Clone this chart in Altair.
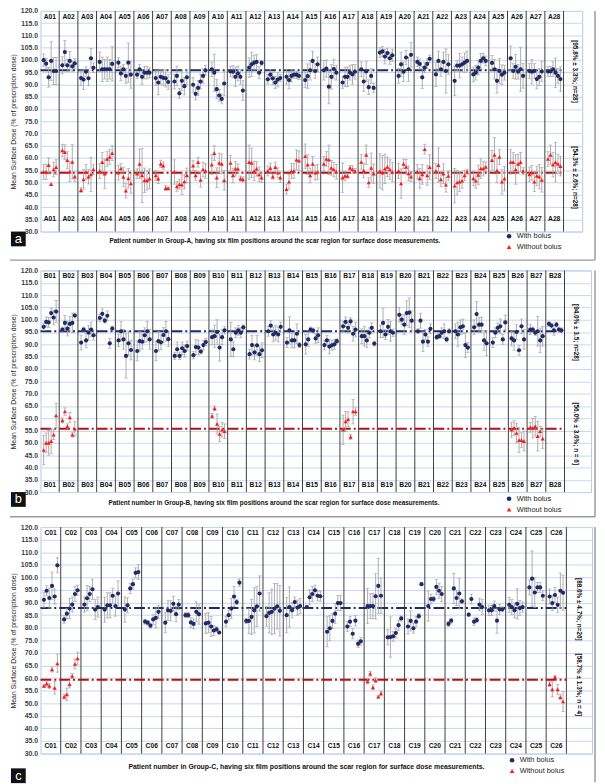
import altair as alt
import pandas as pd

# ---------------- data ----------------
YTICKS = [30, 35, 40, 45, 50, 55, 60, 65, 70, 75, 80, 85, 90, 95, 100, 105, 110, 115, 120]

A_BLUE = [
    99.9, 98.5, 92.9, 99.6, 95.5, 95.5,
    97.8, 103.2, 97.8, 99.6, 97.4, 98.6,
    92.6, 92.0, 95.2, 92.5, 100.7, 96.8,
    99.2, 96.2, 96.2, 96.2, 96.2, 98.4,
    98.9, 94.5, 96.2, 93.5, 98.9, 94.0,
    94.0, 96.2, 93.1, 94.8, 94.8, 94.8,
    92.6, 90.8, 93.1, 92.7, 92.5, 91.0,
    91.2, 93.5, 86.4, 91.5, 89.3, 92.9,
    89.9, 86.2, 88.6, 91.2, 93.5, 95.8,
    96.2, 94.8, 88.1, 85.5, 84.1, 90.4,
    95.3, 95.2, 93.1, 94.5, 93.1, 87.5,
    96.9, 98.2, 98.9, 99.2, 94.8, 98.8,
    92.1, 94.0, 92.5, 90.8, 92.0, 92.6,
    93.1, 91.8, 93.5, 94.0, 94.0, 93.5,
    91.8, 93.4, 95.8, 99.6, 95.5, 98.2,
    95.8, 96.5, 89.1, 93.1, 96.3, 94.8,
    90.8, 93.1, 93.1, 94.8, 94.1, 95.2,
    96.2, 91.2, 95.3, 88.9, 93.5, 88.6,
    103.0, 103.5, 101.4, 102.8, 100.7, 101.9,
    93.5, 98.2, 95.2, 101.0, 96.2, 102.1,
    99.2, 98.4, 92.9, 96.9, 98.4, 100.5,
    94.1, 99.6, 96.2, 99.2, 95.5, 98.2,
    91.5, 97.7, 97.7, 98.2, 98.9, 99.6,
    94.1, 94.8, 96.9, 99.6, 100.7, 99.6,
    98.8, 96.2, 91.5, 95.5, 94.0, 94.8,
    100.7, 95.5, 97.2, 95.2, 96.2, 93.5,
    95.5, 95.2, 95.5, 92.2, 93.1, 95.3,
    95.3, 95.3, 96.2, 94.8, 93.5, 92.2,
]
A_BLUE_ERR = [
    2.5, 2.2, 4, 8, 5.5, 5.5,
    3.5, 4.8, 2.5, 3.8, 2, 2,
    3, 4, 2, 3, 4, 2,
    4, 5, 4, 5, 4, 7,
    2, 3, 2, 3, 8, 5.5,
    1.5, 2, 3, 2.5, 2.5, 2,
    3, 5, 3, 3, 3.5, 3,
    3, 4, 2, 4, 3.5, 3,
    3, 2.5, 3, 3, 3, 2,
    3, 7.6, 4, 2.5, 2, 5,
    2, 2.5, 4, 3, 3, 4,
    4, 5, 3, 3, 2.5, 1,
    2, 2, 2.5, 2.5, 3, 1.5,
    3, 3.5, 2.5, 1.5, 1.5, 1.5,
    3, 5, 4, 4, 3, 3,
    4, 3.5, 7, 5, 4, 3,
    2.5, 4, 4, 3, 4, 3,
    3, 4, 4, 3, 3, 2,
    2, 2, 3, 2, 2.5, 2.5,
    3, 5, 4, 3, 5, 5,
    2, 2, 4.5, 2, 2, 1.5,
    5, 4, 3, 4, 9, 4,
    6, 2, 5, 3, 4, 4,
    3, 3, 3, 3, 2, 2,
    3, 4, 5, 5, 4, 3,
    5, 3, 5, 3, 9, 5,
    3, 5, 3, 4, 3.5, 4,
    2, 2, 3, 6, 3, 5,
]
A_RED_PATIENTS = list(range(1, 29))
A_RED = [
    54.3, 54.3, 57.1, 49.3, 55.3, 56.3,
    63.1, 62.4, 59.1, 54.4, 58.4, 52.4,
    46.9, 51.3, 54.3, 52.4, 53.3, 55.3,
    54.7, 58.3, 53.6, 59.6, 60.4, 62.0,
    54.0, 55.7, 52.3, 46.7, 51.7, 49.6,
    53.6, 57.6, 52.9, 50.9, 50.9, 51.6,
    52.9, 51.6, 57.6, 56.9, 47.7, 47.6,
    54.3, 48.4, 49.3, 49.1, 50.4, 52.9,
    56.9, 52.9, 58.3, 51.1, 55.3, 54.7,
    57.3, 62.0, 52.0, 58.0, 57.6, 50.9,
    58.0, 52.9, 55.6, 55.6, 51.6, 51.3,
    58.3, 58.0, 54.7, 55.6, 53.3, 52.0,
    54.7, 55.9, 52.4, 56.3, 54.0, 52.0,
    47.3, 50.3, 54.7, 54.7, 59.3, 58.9,
    60.7, 57.3, 52.9, 57.6, 54.0, 54.3,
    57.6, 59.6, 59.3, 56.0, 55.3, 54.4,
    52.0, 52.7, 52.7, 56.0, 55.3, 54.7,
    58.4, 54.9, 61.3, 50.0, 56.0, 53.6,
    54.7, 54.0, 55.6, 56.4, 55.3, 54.3,
    54.7, 49.6, 57.6, 56.4, 53.7, 52.4,
    54.4, 51.7, 53.3, 63.6, 52.9, 56.3,
    54.7, 57.1, 51.3, 53.6, 49.1, 52.7,
    48.7, 50.0, 50.3, 50.7, 52.9, 54.4,
    51.7, 50.7, 53.1, 55.7, 55.7, 56.4,
    59.1, 61.3, 54.9, 60.4, 50.3, 51.6,
    58.4, 58.3, 55.3, 57.6, 58.3, 54.7,
    53.3, 54.0, 50.3, 52.7, 52.4, 51.1,
    59.6, 61.3, 57.3, 58.3, 57.6, 56.7,
]
A_RED_ERR = [
    3, 3, 3, 0.5, 3, 3,
    2.5, 3, 3.5, 4, 7, 2,
    1, 4, 3, 3, 7, 2,
    3, 4, 6, 3, 3, 3,
    3, 2, 4, 3, 4, 4,
    2, 6, 11, 5, 4, 4,
    2, 2, 1.5, 1.5, 1, 0.5,
    5, 2, 2, 4, 3, 3,
    2, 2, 2, 3, 3, 3,
    4, 3, 4, 4, 4, 4,
    3, 3, 3, 2, 1, 1,
    7, 6, 4, 3, 3, 2,
    2, 2, 1, 2, 2, 2,
    2, 3, 3, 3, 4, 4,
    5, 4, 3, 3, 3, 3,
    3, 3, 6, 3, 3, 3,
    6, 2, 1, 1, 1.5, 1,
    3, 3, 4, 2, 6, 4,
    7, 7, 6, 4, 4, 4,
    3, 6, 2, 3, 3, 2,
    3, 4, 4, 2, 4, 5,
    3, 7, 3, 4, 3, 2,
    7, 5, 4, 3, 2, 1,
    3, 3, 4, 4, 3, 2,
    4, 7, 5, 3, 5, 5,
    5, 4, 6, 4, 4, 1.5,
    3, 3, 4, 4, 5, 5,
    3, 4, 5, 8, 4, 4,
]

B_BLUE = [
    97.1, 99.1, 98.9, 102.7, 100.9, 103.3,
    96.0, 98.7, 96.4, 98.3, 98.7, 101.7,
    90.7, 96.0, 91.6, 94.7, 96.0, 93.7,
    100.7, 102.4, 99.6, 101.6, 90.4, 96.4,
    91.6, 95.3, 92.0, 85.3, 90.4, 87.7,
    87.3, 91.3, 91.1, 93.7, 95.3, 92.0,
    87.3, 91.3, 90.8, 93.8, 95.3, 92.1,
    85.3, 88.0, 85.3, 88.4, 87.3, 89.3,
    85.6, 88.9, 88.7, 87.1, 89.7, 90.9,
    92.9, 93.3, 95.0, 88.7, 92.9, 95.7,
    92.0, 88.0, 94.7, 95.7, 94.7, 96.9,
    86.0, 89.7, 86.7, 89.6, 86.0, 87.6,
    95.3, 97.6, 94.0, 94.7, 94.0, 97.1,
    90.7, 95.7, 91.6, 91.6, 94.3, 89.7,
    90.0, 92.0, 96.0, 95.6, 92.4, 93.7,
    89.7, 91.6, 89.1, 89.6, 90.0, 91.3,
    97.3, 99.1, 96.7, 99.3, 94.3, 96.0,
    93.3, 93.3, 91.6, 94.7, 96.7, 90.3,
    95.3, 98.7, 94.0, 97.1, 95.3, 94.7,
    102.0, 100.0, 98.0, 102.7, 102.9, 99.6,
    95.3, 99.6, 91.1, 94.0, 91.1, 96.3,
    92.9, 93.3, 94.7, 95.3, 92.0, 95.3,
    95.3, 94.0, 96.9, 97.3, 89.7, 88.7,
    96.9, 102.3, 98.0, 98.0, 91.6, 90.4,
    90.7, 94.7, 96.7, 97.3, 92.0, 98.9,
    92.4, 91.6, 95.0, 87.6, 97.3, 92.0,
    96.0, 96.0, 94.7, 95.3, 91.6, 93.3,
    98.3, 97.6, 95.7, 98.0, 96.0, 95.7,
]
B_BLUE_ERR = [
    1.5, 2, 2, 2, 3, 4.5,
    1, 3, 3, 3, 4, 1,
    3, 1, 3, 3, 3, 2,
    1.5, 2, 1, 2, 2, 1,
    2.5, 4, 4, 9, 5, 4,
    4, 4, 3, 3, 4, 4,
    4, 4, 3, 3, 4, 3,
    1.5, 3, 1.5, 2.5, 2.5, 2,
    1.5, 3, 3, 1, 2, 1.5,
    3, 4.5, 5, 5.5, 3, 1.5,
    7, 3, 2, 2, 2, 1,
    2, 4, 3, 4, 3, 3,
    2, 2, 3, 3, 3, 2,
    2, 5.5, 3, 3, 4, 1,
    4, 3, 1, 1, 2, 3,
    2, 2, 3, 2, 2, 1,
    2, 2, 2, 1.5, 3, 3,
    3, 4, 3, 2, 2, 1,
    2.5, 6, 2, 3, 4, 1.5,
    3, 2, 4, 5, 6, 4,
    1, 3, 4, 2, 2, 2,
    1, 1, 2, 3, 1, 1,
    3, 5, 3, 3, 5, 2,
    3, 5, 3, 3, 4, 5,
    2, 2, 2, 3, 2, 3,
    3, 4, 3, 2, 3, 4,
    2, 1, 1, 6, 5, 4,
    1, 1, 2, 1, 1, 1,
]
B_RED_PATIENTS = [1, 2, 10, 17, 26, 27]
B_RED = [
    47.1, 50.0, 50.0, 50.7, 53.3, 61.1,
    59.1, 62.7, 56.7, 60.3, 53.3, 55.7,
    60.9, 64.0, 57.7, 53.6, 55.3, 54.7,
    55.3, 58.7, 59.6, 52.4, 62.7, 62.7,
    55.3, 56.0, 54.0, 51.1, 51.1, 50.7,
    56.3, 56.0, 56.7, 52.7, 54.7, 51.7,
]
B_RED_ERR = [
    6, 4, 5, 5, 2, 5,
    1, 1.5, 1, 2, 1, 3,
    1, 1, 4, 3, 3, 3,
    6, 4, 3, 1, 5, 1.5,
    3, 3, 4, 5, 3, 4,
    2, 4, 4, 6, 2, 4,
]

C_BLUE = [
    91.1, 94.7, 91.8, 96.6, 92.4, 104.8,
    83.3, 85.6, 87.6, 89.2, 93.4, 94.9,
    89.2, 91.7, 93.4, 95.3, 87.2, 88.2,
    87.2, 88.9, 88.9, 92.7, 88.6, 93.6,
    87.2, 88.9, 95.6, 97.3, 101.8, 102.1,
    82.4, 82.0, 80.8, 83.3, 83.9, 86.3,
    82.0, 86.9, 86.7, 89.5, 85.4, 89.2,
    85.0, 85.0, 82.1, 81.5, 86.3, 85.4,
    81.7, 82.0, 80.5, 78.9, 79.4, 78.1,
    82.4, 85.0, 87.6, 92.4, 90.2, 97.9,
    82.7, 82.7, 84.3, 86.9, 88.5, 93.6,
    84.6, 85.9, 86.3, 87.6, 88.5, 86.7,
    85.0, 88.2, 86.9, 90.2, 88.0, 88.6,
    88.2, 92.1, 93.4, 94.9, 92.7, 92.5,
    78.4, 79.8, 82.7, 85.6, 89.8, 89.8,
    80.5, 82.4, 77.6, 82.8, 73.6, 74.6,
    88.6, 88.6, 88.6, 92.5, 96.6, 92.7,
    76.2, 76.3, 76.6, 77.9, 81.0, 83.7,
    80.5, 82.7, 79.8, 82.4, 84.6, 97.3,
    88.6, 91.4, 91.4, 96.2, 94.7, 93.4,
    81.5, 82.8, 95.6, 91.8, 93.6, 90.5,
    85.2, 91.4, 82.4, 83.0, 89.2, 88.2,
    86.9, 86.9, 88.6, 82.8, 87.3, 87.3,
    89.1, 88.2, 86.9, 89.5, 87.8, 88.2,
    96.0, 99.5, 94.0, 96.0, 96.0, 92.7,
    92.4, 89.8, 93.0, 89.1, 94.7, 93.9,
]
C_BLUE_ERR = [
    3, 2, 4, 5.5, 3, 3,
    1.5, 2, 4, 3, 3, 2,
    3, 5, 3, 4, 4, 4,
    5, 5, 5, 3, 4, 5,
    5, 3, 2, 2, 2, 3,
    1, 1, 1, 2, 4, 2.5,
    4, 4, 4, 3, 3, 2,
    1, 1, 2, 2, 4, 4,
    4, 4, 4, 2, 1, 0.5,
    2, 2, 4, 4, 1, 1.5,
    1, 5, 7, 9, 8, 7,
    4, 8, 9, 10, 9, 10,
    7, 8, 3, 2, 3, 3,
    0.5, 3, 3, 2, 2, 2,
    6, 5, 3, 4, 3, 3,
    2, 2, 2, 2, 1.5, 1.5,
    7, 5, 5, 9, 11, 7,
    3, 8, 2, 2, 2, 1,
    3, 4, 2, 2, 1, 0.5,
    6, 2, 1, 3, 3, 3,
    1, 1, 6, 3, 6, 1,
    0.5, 2, 1.5, 1, 2.5, 3,
    2, 2, 2, 5, 2, 1,
    3, 3, 3, 6, 3, 2,
    3, 11, 6, 2, 2, 2,
    3, 3, 3, 3, 7, 7,
]
C_RED_PATIENTS = [1, 2, 17, 26]
C_RED = [
    56.9, 57.8, 56.9, 63.4, 56.1, 65.8,
    52.6, 53.5, 57.6, 60.8, 65.6, 67.8,
    58.7, 61.7, 56.3, 59.1, 52.6, 53.9,
    57.6, 55.5, 60.4, 55.5, 52.4, 50.7,
]
C_RED_ERR = [
    0.5, 1, 1, 1, 2.5, 3.5,
    1, 2.5, 1.5, 1, 2, 2.5,
    1, 1, 1, 1, 0.5, 1,
    1, 3, 0.5, 2, 1, 4,
]

MEAN_BLUE = {"A": 95.8, "B": 95.3, "C": 87.8}
MEAN_RED = {"A": 54.0, "B": 55.7, "C": 59.3}
TXT_BLUE = {"A": "[95.8% ± 3.3%; n=28]", "B": "[94.0% ± 3.5; n=28]", "C": "[88.0% ± 4.7%; n=26]"}
TXT_RED = {"A": "[54.3% ± 2.6%; n=28]", "B": "[56.0% ± 3.0%; n = 6]", "C": "[58.7% ± 1.3%; n = 4]"}
SERIES = ["With bolus", "Without bolus"]

NAVY = "#1f2a66"
RED = "#ff1a1a"
DARKRED = "#b80f0f"
GREY = "#a3a3a3"
FRAME = "#9a9a9a"
FONT = "Liberation Sans"
NARROW = "Liberation Sans Narrow, Liberation Sans"


def panel(letter, n, blue, blue_err, red_pats, red, red_err, xmax, width, height,
          bottom_y, xtitle_cx, xtitle_dy, xtitle_size, xtitle_font, box_dy,
          legend_x, legend_dy, frame_dy, sep_line):
    rows = []
    for i in range(n):
        for j in range(6):
            k = 6 * i + j
            rows.append({"x": i + 0.17 + 0.133 * j, "v": blue[k],
                         "lo": blue[k] - blue_err[k], "hi": blue[k] + blue_err[k],
                         "s": SERIES[0]})
    for q, p in enumerate(red_pats):
        for j in range(6):
            k = 6 * q + j
            rows.append({"x": p - 1 + 0.17 + 0.133 * j, "v": red[k],
                         "lo": red[k] - red_err[k], "hi": red[k] + red_err[k],
                         "s": SERIES[1]})
    df = pd.DataFrame(rows)

    xs = alt.Scale(domain=[0, xmax], nice=False, zero=False)
    ys = alt.Scale(domain=[30, 120], nice=False, zero=False)
    yaxis = alt.Axis(values=YTICKS, format=".1f", grid=True, gridColor="#c5d7ee",
                     gridWidth=1, domain=False, ticks=False, labelFontSize=7,
                     labelFontWeight="bold", labelColor="#404040", labelFont=FONT,
                     labelPadding=3, title="Mean Surface Dose (% of prescription dose)",
                     titleFontSize=7, titleFontWeight="normal", titleFont=FONT,
                     titleColor="#222222", titlePadding=4)

    def X(f):
        return alt.X(f, type="quantitative", scale=xs, axis=None)

    def Y(f):
        return alt.Y(f, type="quantitative", scale=ys, axis=yaxis)

    base = alt.Chart(df)
    err = base.mark_rule(color=GREY, strokeWidth=0.9).encode(x=X("x"), y=Y("lo"), y2="hi")
    cap_lo = base.mark_tick(orient="horizontal", color=GREY, size=3.5, thickness=0.9).encode(x=X("x"), y=Y("lo"))
    cap_hi = base.mark_tick(orient="horizontal", color=GREY, size=3.5, thickness=0.9).encode(x=X("x"), y=Y("hi"))

    legend = alt.Legend(title=None, orient="none", legendX=legend_x, legendY=height + legend_dy,
                        labelFontSize=7.5, labelFont=FONT, labelColor="#222222",
                        symbolSize=22, rowPadding=2, padding=0)
    pts = base.mark_point(filled=True, opacity=1, size=18).encode(
        x=X("x"), y=Y("v"),
        color=alt.Color("s:N", scale=alt.Scale(domain=SERIES, range=[NAVY, RED]), legend=legend),
        shape=alt.Shape("s:N", scale=alt.Scale(domain=SERIES, range=["circle", "triangle-up"]), legend=legend),
    )

    sep_df = pd.DataFrame({"x": list(range(1, n + 1))})
    seps = alt.Chart(sep_df).mark_rule(color="#3d3d3d", strokeWidth=1).encode(x=X("x"))

    mean_df = pd.DataFrame({"x0": [0], "x1": [n], "mb": [MEAN_BLUE[letter]], "mr": [MEAN_RED[letter]]})
    mean_b = alt.Chart(mean_df).mark_rule(color=NAVY, strokeWidth=2, strokeDash=[11, 3, 2, 3]).encode(
        x=X("x0"), x2="x1", y=Y("mb"))
    mean_r = alt.Chart(mean_df).mark_rule(color=DARKRED, strokeWidth=2, strokeDash=[11, 3, 2, 3]).encode(
        x=X("x0"), x2="x1", y=Y("mr"))

    lab_df = pd.DataFrame({"x": [i + 0.5 for i in range(n)],
                           "lab": [f"{letter}{i + 1:02d}" for i in range(n)],
                           "top": [117.6] * n, "bot": [bottom_y] * n})
    lab_top = alt.Chart(lab_df).mark_text(fontSize=6.8, fontWeight="bold", font=FONT, color="#111111").encode(
        x=X("x"), y=Y("top"), text="lab:N")
    lab_bot = alt.Chart(lab_df).mark_text(fontSize=6.8, fontWeight="bold", font=FONT, color="#111111").encode(
        x=X("x"), y=Y("bot"), text="lab:N")

    side_df = pd.DataFrame({"x": [n + 0.6, n + 0.6],
                            "y": [MEAN_BLUE[letter] - 0.5, MEAN_RED[letter] - 2.0],
                            "t": [TXT_BLUE[letter], TXT_RED[letter]]})
    side = alt.Chart(side_df).mark_text(angle=90, fontSize=6.5, fontWeight="bold", font=NARROW,
                                        color="#111111").encode(x=X("x"), y=Y("y"), text="t:N")

    xt_df = pd.DataFrame({"t": [f"Patient number in Group-{letter}, having six film positions around  the scar region for surface dose measurements."]})
    xtitle = alt.Chart(xt_df).mark_text(fontSize=xtitle_size, fontWeight="bold", font=xtitle_font,
                                        color="#111111").encode(
        x=alt.value(xtitle_cx), y=alt.value(height + xtitle_dy), text="t:N")

    box_df = pd.DataFrame({"t": [letter.lower()]})
    box = alt.Chart(box_df).mark_rect(color="#111111").encode(
        x=alt.value(-30), x2=alt.value(-15), y=alt.value(height + box_dy), y2=alt.value(height + box_dy + 15))
    box_t = alt.Chart(box_df).mark_text(fontSize=13, font=FONT, color="white").encode(
        x=alt.value(-22.5), y=alt.value(height + box_dy + 7.5), text="t:N")

    # figure frame: right edge and horizontal separator below the panel
    right_edge = 563
    frame_v = alt.Chart(box_df).mark_rule(color=FRAME, strokeWidth=1.5).encode(
        x=alt.value(right_edge), y=alt.value(0), y2=alt.value(height + frame_dy))
    layers = [seps, mean_b, mean_r, err, cap_lo, cap_hi, pts, lab_top, lab_bot, side,
              xtitle, box, box_t, frame_v]
    if sep_line:
        frame_h = alt.Chart(box_df).mark_rule(color=FRAME, strokeWidth=1.5).encode(
            x=alt.value(-31), x2=alt.value(right_edge), y=alt.value(height + frame_dy))
        layers.append(frame_h)

    return alt.layer(*layers).properties(width=width, height=height)


pa = panel("A", 28, A_BLUE, A_BLUE_ERR, A_RED_PATIENTS, A_RED, A_RED_ERR, 29.0, 550, 224,
           35.0, 238, 10, 6.5, NARROW, 0, 472, 1, 29, True)
pb = panel("B", 28, B_BLUE, B_BLUE_ERR, B_RED_PATIENTS, B_RED, B_RED_ERR, 29.42, 559, 225,
           33.0, 237, 11, 6.5, NARROW, 0, 472, 3, 25, True)
pc = panel("C", 26, C_BLUE, C_BLUE_ERR, C_RED_PATIENTS, C_RED, C_RED_ERR, 27.27, 560, 230,
           33.0, 270, 14, 7.0, FONT, 15, 475, 3, 29, False)

chart = alt.vconcat(pa, pb, pc, spacing=3.5).resolve_scale(
    x="independent", y="independent", color="independent", shape="independent"
).properties(padding={"top": -8, "left": 0, "right": 0, "bottom": 0}).configure_view(
    stroke="#b4c7e7", strokeWidth=1)

chart.save("out.html", embed_options={"renderer": "svg", "actions": False})
